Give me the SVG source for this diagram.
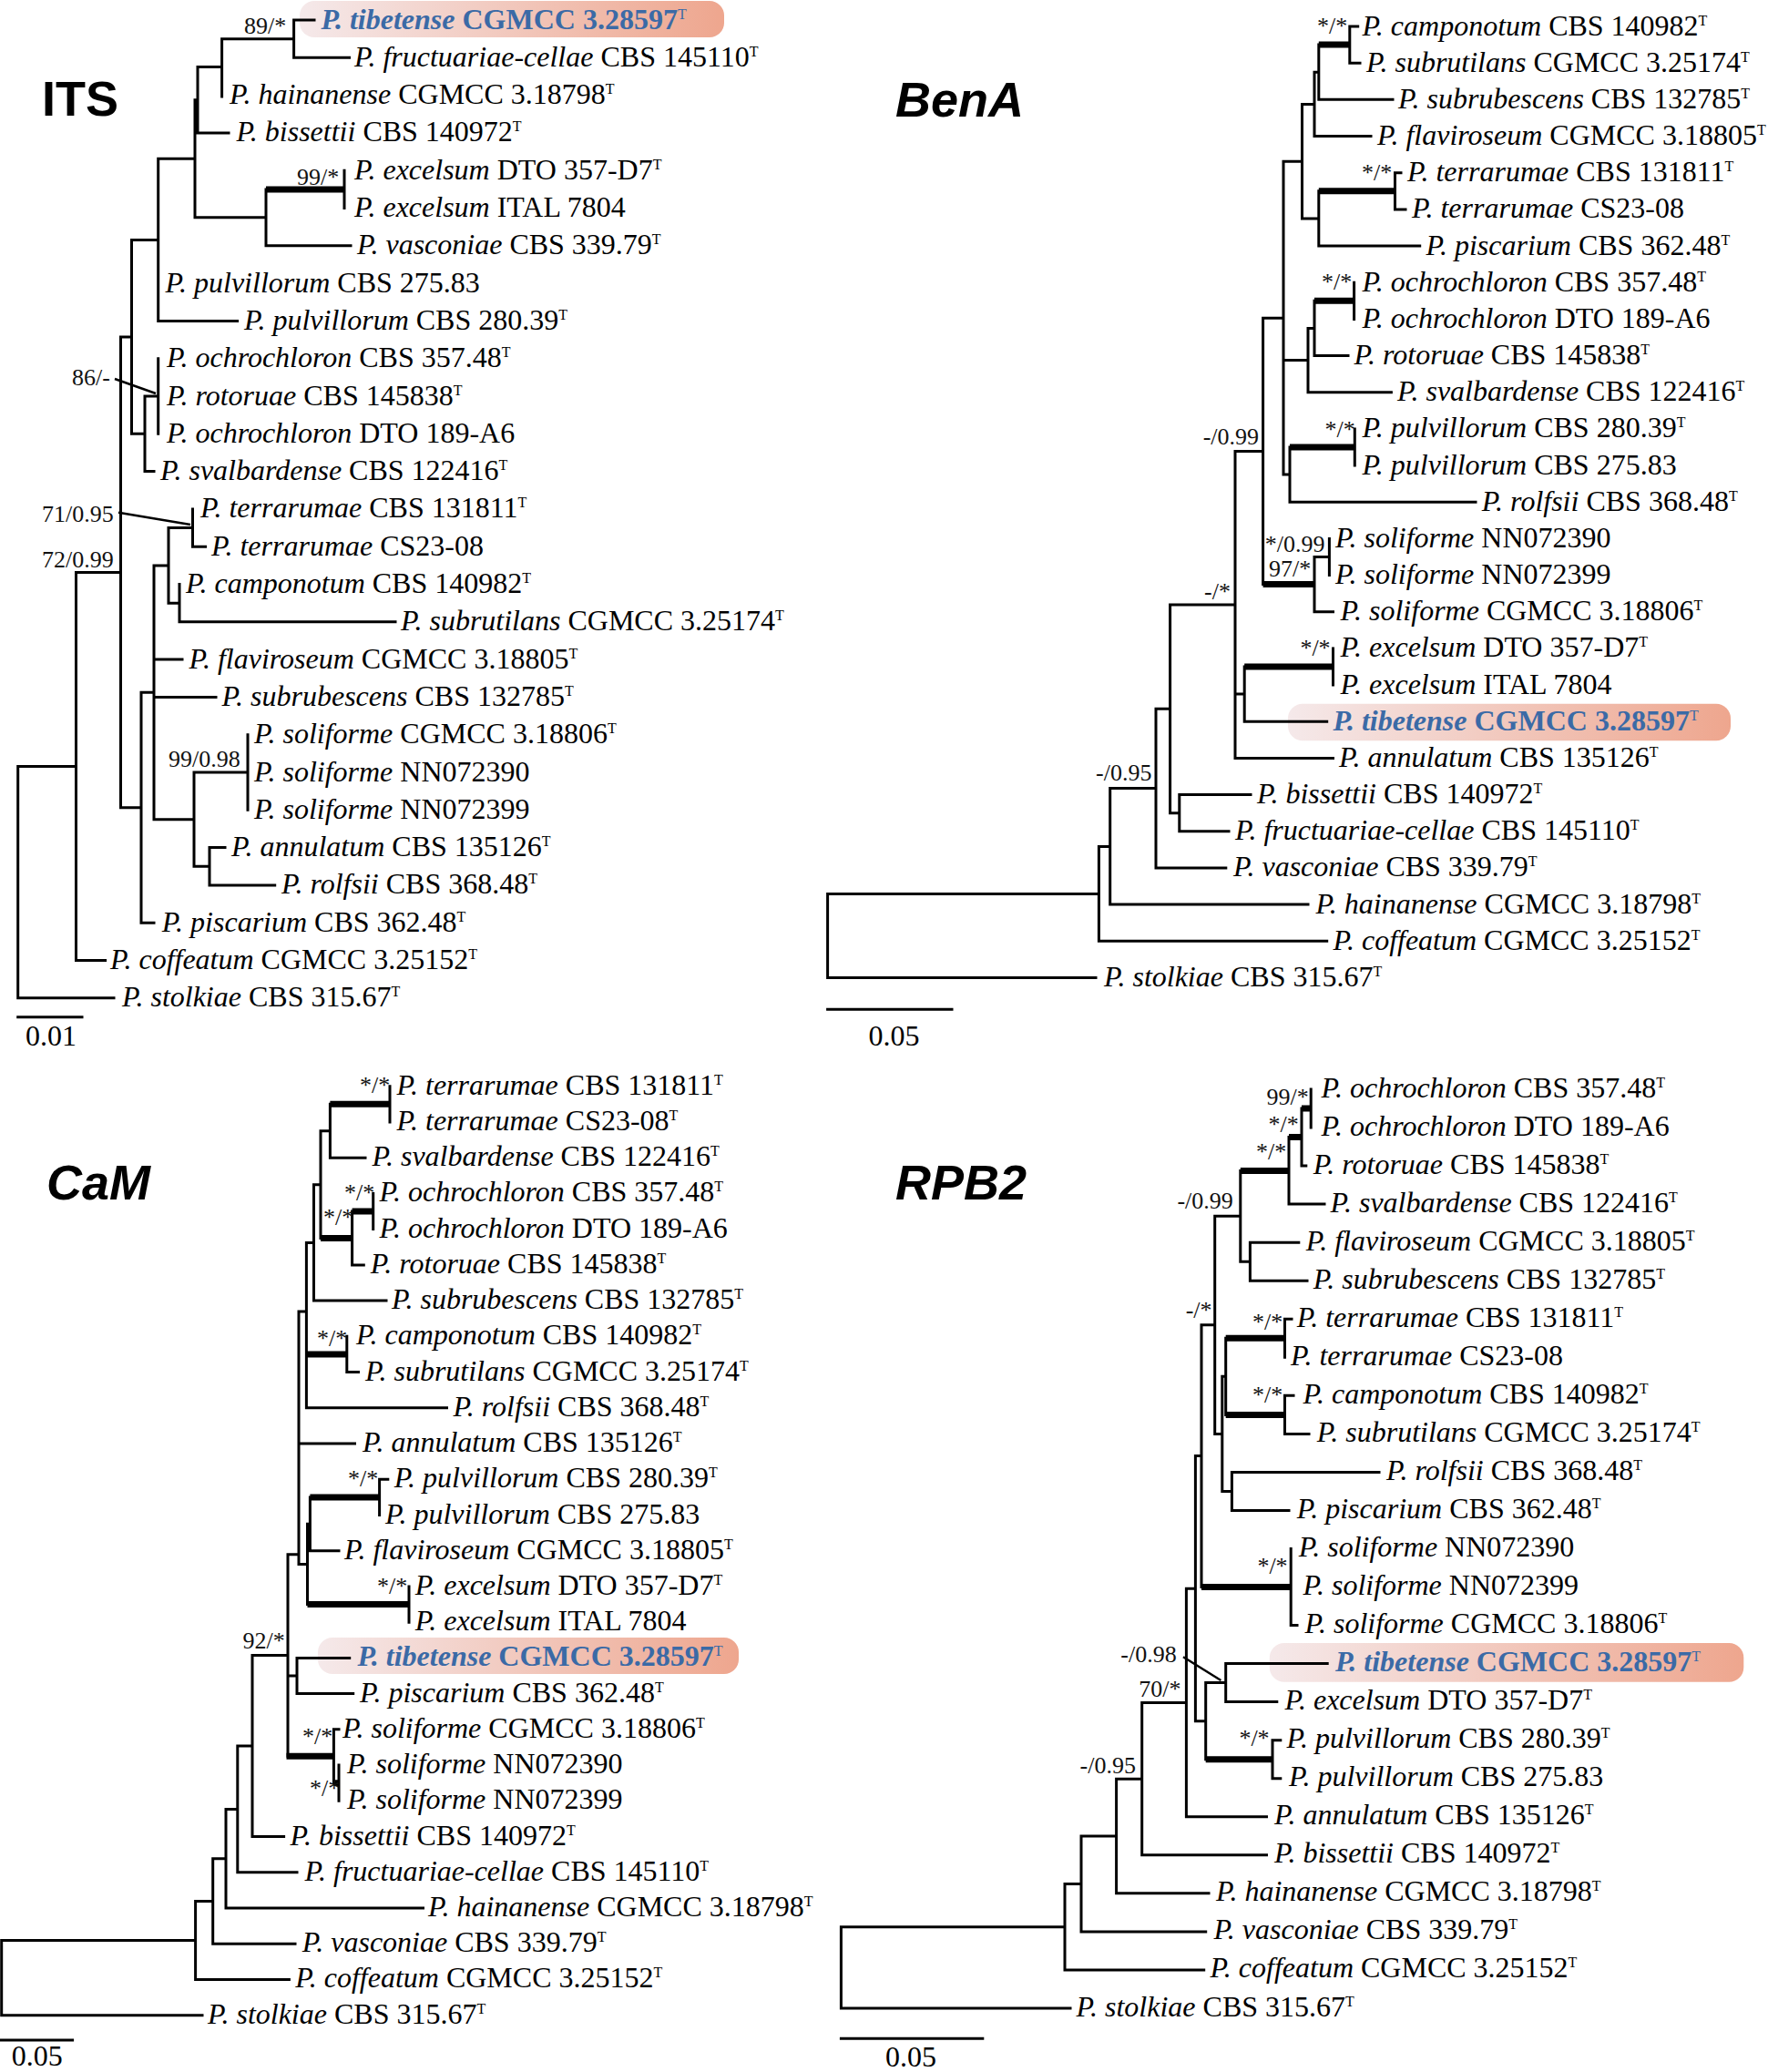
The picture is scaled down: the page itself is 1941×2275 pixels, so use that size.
<svg xmlns="http://www.w3.org/2000/svg" width="1941" height="2275" viewBox="0 0 1941 2275">
<style>
.t{font-family:"Liberation Serif","Times New Roman",serif;font-size:32px;fill:#000}
.i{font-style:italic}
.s{font-size:16px;font-style:normal;font-weight:normal}
.tb{font-weight:bold;fill:#3b6aa6}
.b{font-family:"Liberation Serif","Times New Roman",serif;font-size:26px;fill:#111}
.h{font-family:"Liberation Sans",Arial,sans-serif;font-weight:bold;font-size:54px;fill:#000}
.br{stroke:#000;stroke-width:3;fill:none;stroke-linecap:square;stroke-linejoin:miter}
.th{stroke:#000;stroke-width:7;fill:none;stroke-linecap:butt}
.pt{stroke:#000;stroke-width:2.5;fill:none}
</style>
<defs>
<linearGradient id="hl" x1="0" y1="0" x2="1" y2="0">
<stop offset="0" stop-color="#f5e9ea"/>
<stop offset="1" stop-color="#eea68e"/>
</linearGradient>
</defs>
<rect width="1941" height="2275" fill="#fff"/>

<g id="highlights" fill="url(#hl)">
<rect x="329" y="1" width="466" height="40" rx="16"/>
<rect x="1414" y="772.7" width="486" height="40.6" rx="16"/>
<rect x="349" y="1798" width="462" height="40" rx="16"/>
<rect x="1393.8" y="1804" width="520.5" height="42.7" rx="16"/>
</g>

<g id="connectors">
<path class="br" d="M322.6 22H345M322.6 22V63.3H383.5M243.6 42.65H322.6M243.6 42.65V106M217 73.6H243.6M217 73.6V145.9H251M214 109.8H217M378 187.2V228.5M292 207.9V269.8H385M214 109.8V238.8H292M173.7 174.3H214M173.7 174.3V352.4H260.6M144.5 263.4H173.7M173.7 393.7V476.3M159 435H173.7M159 435V517.6H169M144.5 263.4V476.3H159M132.5 369.9H144.5M211.5 558.9V600.2H225.6M197 641.5V682.8H434M185 579.6H211.5M185 579.6V662.2H197M169 620.9H185M272 806.7V889.3M230 930.6H247M230 930.6V971.9H301.7M213 848H272M213 848V951.3H230M169 620.9V899.7H213M169 724.1H200M169 765.4H237M155 760.3H169M155 760.3V1013.2H169M132.5 369.9V886.8H155M83.5 628.4H132.5M83.5 628.4V1054.5H115.6M19.7 841.5H83.5M19.7 841.5V1095.8H125M19.7 1116.7H90"/>
<path class="th" d="M292 207.9H378"/>
<path class="pt" d="M126 416L171 432M130 562.7L209 576"/>
<path class="br" d="M1481.8 29H1490.7M1481.8 29V69.2H1493M1447.8 49.1V109.3H1529M1443 79.2H1447.8M1443 79.2V149.5H1505M1531.5 189.7H1538M1531.5 189.7V229.9H1543M1447.8 209.8V270H1558.7M1429.5 114.4H1443M1429.5 114.4V239.9H1447.8M1486.6 310.2V350.4M1443 330.3V390.5H1480M1436 360.4H1443M1436 360.4V430.7H1527.4M1487.3 470.9V511M1416 491V551.2H1620M1409 177.2H1429.5M1409 177.2V521.1H1416M1409 395.5H1436M1386.6 349.2H1409M1459.4 591.4V631.6M1443 611.5H1459.4M1443 611.5V671.7H1463.5M1386.6 349.2V641.6M1356 495.4H1386.6M1463.5 711.9V752.1M1366.2 732V792.2H1456.7M1356 762.1H1366.2M1356 495.4V832.4H1463.5M1284.6 663.9H1356M1294.8 872.6H1373M1294.8 872.6V912.7H1349M1284.6 892.7H1294.8M1284.6 663.9V892.7M1269 778.3H1284.6M1269 778.3V952.9H1345.8M1218.7 865.6H1269M1218.7 865.6V993.1H1436M1206.4 929.4H1218.7M1206.4 929.4V1033.3H1456.7M908.6 981.4H1206.4M908.6 981.4V1073.4H1203M908.6 1108.3H1045"/>
<path class="th" d="M1447.8 49.1H1481.8M1447.8 209.8H1531.5M1443 330.3H1486.6M1416 491H1487.3M1386.6 641.6H1443M1366.2 732H1463.5"/>
<path class="br" d="M428 1192.7V1231.9M362.4 1212.3V1271.2H401M352 1241.8H362.4M409.7 1310.4V1349.6M386.6 1330V1388.9H399.3M352 1241.8V1359.5M344.5 1300.7H352M344.5 1300.7V1428.1H424M336.4 1364.4H344.5M380.8 1467.3V1506.5H393.5M336.4 1364.4V1545.8H490.5M328 1440H336.4M416.6 1624.2H425.8M416.6 1624.2V1663.5M340.4 1643.9V1702.7H372M449 1741.9V1781.2M337.5 1673.3H340.4M337.5 1673.3V1761.5M328 1440V1717.4H337.5M328 1585H389.5M316 1706.7H328M326 1820.4H383.7M326 1820.4V1859.6H387.7M316 1840H326M366.4 1898.8H372M366.4 1898.8V1957.7M372 1938.1V1977.3M316 1706.7V1928.3M277 1817.5H316M277 1817.5V2016.5H311.6M260.8 1917H277M260.8 1917V2055.8H326M248 1986.4H260.8M248 1986.4V2095H464.5M233.7 2040.7H248M233.7 2040.7V2134.2H324M214.6 2087.5H233.7M214.6 2087.5V2173.4H317.4M1.7 2130.5H214.6M1.7 2130.5V2212.7H222M0 2240H79.6"/>
<path class="th" d="M362.4 1212.3H428M386.6 1330H409.7M352 1359.5H386.6M336.4 1486.9H380.8M340.4 1643.9H416.6M337.5 1761.5H449M314.5 1928.3H366.4M366.4 1957.7H372"/>
<path class="br" d="M1439.2 1196V1238M1429 1217V1280.1H1433.8M1415 1248.6V1322.1H1454M1372.4 1364.2H1425.8M1372.4 1364.2V1406.2H1435M1361.8 1285.4V1385.2H1372.4M1333.7 1335.3H1361.8M1410.5 1448.2H1418M1410.5 1448.2V1490.3M1410.5 1532.3H1420M1410.5 1532.3V1574.4H1437M1345.7 1469.3V1553.4M1341.8 1511.3H1345.7M1352.4 1616.4H1514M1352.4 1616.4V1658.4H1415M1341.8 1511.3V1637.4H1352.4M1333.7 1574.4H1341.8M1333.7 1335.3V1574.4M1319 1454.8H1333.7M1417.2 1700.5V1784.6H1424M1319 1454.8V1742.5M1312.4 1598.6H1319M1345.7 1826.6H1457.2M1345.7 1826.6V1868.6H1401.8M1323.7 1847.6H1345.7M1397 1910.7H1405.8M1397 1910.7V1952.7H1405.8M1323.7 1847.6V1931.7M1312.4 1598.6V1889.7H1323.7M1302.4 1744.2H1312.4M1302.4 1744.2V1994.8H1390.5M1253.7 1869.5H1302.4M1253.7 1869.5V2036.8H1390.5M1225.6 1953.2H1253.7M1225.6 1953.2V2078.8H1327M1187 2016H1225.6M1187 2016V2120.9H1323.7M1169 2068.5H1187M1169 2068.5V2162.9H1321.7M923.4 2115.7H1169M923.4 2115.7V2205H1175M923.4 2238.3H1078.8"/>
<path class="th" d="M1429 1217H1439.2M1415 1248.6H1429M1361.8 1285.4H1415M1345.7 1469.3H1410.5M1345.7 1553.4H1410.5M1319 1742.5H1417.2M1323.7 1931.7H1397"/>
<path class="pt" d="M1299 1819.3L1340.4 1845"/>
</g>

<g id="headers">
<text class="h" x="46" y="127">ITS</text>
<text class="h" x="983" y="128" font-style="italic" font-size="53">BenA</text>
<text class="h" x="51" y="1317" font-style="italic" font-size="53">CaM</text>
<text class="h" x="983" y="1317" font-style="italic" font-size="53">RPB2</text>
</g>

<g id="supports" class="b">
<text x="268" y="37">89/*</text>
<text x="326" y="203">99/*</text>
<text x="79" y="423">86/-</text>
<text x="46" y="573">71/0.95</text>
<text x="46" y="623">72/0.99</text>
<text x="185" y="842">99/0.98</text>
<text x="1446" y="37">*/*</text>
<text x="1495" y="198">*/*</text>
<text x="1451" y="318">*/*</text>
<text x="1320.7" y="488">-/0.99</text>
<text x="1454.6" y="480">*/*</text>
<text x="1388.7" y="606">*/0.99</text>
<text x="1393" y="632.5">97/*</text>
<text x="1322" y="658">-/*</text>
<text x="1427.4" y="720">*/*</text>
<text x="1203" y="856.7">-/0.95</text>
<text x="395" y="1200">*/*</text>
<text x="378" y="1318">*/*</text>
<text x="355" y="1345">*/*</text>
<text x="348" y="1478">*/*</text>
<text x="382" y="1631.7">*/*</text>
<text x="414" y="1750">*/*</text>
<text x="266.6" y="1810">92/*</text>
<text x="332" y="1915">*/*</text>
<text x="340" y="1971.7">*/*</text>
<text x="1390.5" y="1213.3">99/*</text>
<text x="1392.5" y="1243.3">*/*</text>
<text x="1379" y="1273.3">*/*</text>
<text x="1292.4" y="1326.7">-/0.99</text>
<text x="1301.7" y="1446.7">-/*</text>
<text x="1375" y="1460">*/*</text>
<text x="1375" y="1540">*/*</text>
<text x="1380.4" y="1728.3">*/*</text>
<text x="1230.3" y="1825">-/0.98</text>
<text x="1250.3" y="1863.3">70/*</text>
<text x="1360.4" y="1916.7">*/*</text>
<text x="1185.6" y="1946.7">-/0.95</text>
</g>

<g id="scales" class="t">
<text x="28" y="1148">0.01</text>
<text x="953.4" y="1148">0.05</text>
<text x="12.7" y="2268">0.05</text>
<text x="972" y="2269">0.05</text>
</g>

<g id="its-taxa" class="t">
<g id="its-tibetense"><text class="tb" x="352.5" y="31.5"><tspan class="i">P. tibetense</tspan> CGMCC 3.28597<tspan class="s" dy="-11">T</tspan></text></g>
<g id="its-fructuariae"><text x="389" y="72.8"><tspan class="i">P. fructuariae-cellae</tspan> CBS 145110<tspan class="s" dy="-11">T</tspan></text></g>
<g id="its-hainanense"><text x="252" y="114.1"><tspan class="i">P. hainanense</tspan> CGMCC 3.18798<tspan class="s" dy="-11">T</tspan></text></g>
<g id="its-bissettii"><text x="259.4" y="155.4"><tspan class="i">P. bissettii</tspan> CBS 140972<tspan class="s" dy="-11">T</tspan></text></g>
<g id="its-excelsum1"><text x="389" y="196.7"><tspan class="i">P. excelsum</tspan> DTO 357-D7<tspan class="s" dy="-11">T</tspan></text></g>
<g id="its-excelsum2"><text x="389" y="238"><tspan class="i">P. excelsum</tspan> ITAL 7804</text></g>
<g id="its-vasconiae"><text x="392" y="279.3"><tspan class="i">P. vasconiae</tspan> CBS 339.79<tspan class="s" dy="-11">T</tspan></text></g>
<g id="its-pulvillorum1"><text x="181.6" y="320.6"><tspan class="i">P. pulvillorum</tspan> CBS 275.83</text></g>
<g id="its-pulvillorum2"><text x="268" y="361.9"><tspan class="i">P. pulvillorum</tspan> CBS 280.39<tspan class="s" dy="-11">T</tspan></text></g>
<g id="its-ochrochloron1"><text x="183" y="403.2"><tspan class="i">P. ochrochloron</tspan> CBS 357.48<tspan class="s" dy="-11">T</tspan></text></g>
<g id="its-rotoruae"><text x="183" y="444.5"><tspan class="i">P. rotoruae</tspan> CBS 145838<tspan class="s" dy="-11">T</tspan></text></g>
<g id="its-ochrochloron2"><text x="183" y="485.8"><tspan class="i">P. ochrochloron</tspan> DTO 189-A6</text></g>
<g id="its-svalbardense"><text x="176" y="527.1"><tspan class="i">P. svalbardense</tspan> CBS 122416<tspan class="s" dy="-11">T</tspan></text></g>
<g id="its-terrarumae1"><text x="220" y="568.4"><tspan class="i">P. terrarumae</tspan> CBS 131811<tspan class="s" dy="-11">T</tspan></text></g>
<g id="its-terrarumae2"><text x="232" y="609.7"><tspan class="i">P. terrarumae</tspan> CS23-08</text></g>
<g id="its-camponotum"><text x="204" y="651"><tspan class="i">P. camponotum</tspan> CBS 140982<tspan class="s" dy="-11">T</tspan></text></g>
<g id="its-subrutilans"><text x="440" y="692.3"><tspan class="i">P. subrutilans</tspan> CGMCC 3.25174<tspan class="s" dy="-11">T</tspan></text></g>
<g id="its-flaviroseum"><text x="207.5" y="733.6"><tspan class="i">P. flaviroseum</tspan> CGMCC 3.18805<tspan class="s" dy="-11">T</tspan></text></g>
<g id="its-subrubescens"><text x="243.6" y="774.9"><tspan class="i">P. subrubescens</tspan> CBS 132785<tspan class="s" dy="-11">T</tspan></text></g>
<g id="its-soliforme1"><text x="279" y="816.2"><tspan class="i">P. soliforme</tspan> CGMCC 3.18806<tspan class="s" dy="-11">T</tspan></text></g>
<g id="its-soliforme2"><text x="279" y="857.5"><tspan class="i">P. soliforme</tspan> NN072390</text></g>
<g id="its-soliforme3"><text x="279" y="898.8"><tspan class="i">P. soliforme</tspan> NN072399</text></g>
<g id="its-annulatum"><text x="254" y="940.1"><tspan class="i">P. annulatum</tspan> CBS 135126<tspan class="s" dy="-11">T</tspan></text></g>
<g id="its-rolfsii"><text x="309" y="981.4"><tspan class="i">P. rolfsii</tspan> CBS 368.48<tspan class="s" dy="-11">T</tspan></text></g>
<g id="its-piscarium"><text x="177.7" y="1022.7"><tspan class="i">P. piscarium</tspan> CBS 362.48<tspan class="s" dy="-11">T</tspan></text></g>
<g id="its-coffeatum"><text x="121" y="1064"><tspan class="i">P. coffeatum</tspan> CGMCC 3.25152<tspan class="s" dy="-11">T</tspan></text></g>
<g id="its-stolkiae"><text x="134" y="1105.3"><tspan class="i">P. stolkiae</tspan> CBS 315.67<tspan class="s" dy="-11">T</tspan></text></g>
</g>

<g id="bena-taxa" class="t">
<g id="bena-camponotum"><text x="1495.4" y="38.5"><tspan class="i">P. camponotum</tspan> CBS 140982<tspan class="s" dy="-11">T</tspan></text></g>
<g id="bena-subrutilans"><text x="1500" y="78.7"><tspan class="i">P. subrutilans</tspan> CGMCC 3.25174<tspan class="s" dy="-11">T</tspan></text></g>
<g id="bena-subrubescens"><text x="1535" y="118.8"><tspan class="i">P. subrubescens</tspan> CBS 132785<tspan class="s" dy="-11">T</tspan></text></g>
<g id="bena-flaviroseum"><text x="1512" y="159"><tspan class="i">P. flaviroseum</tspan> CGMCC 3.18805<tspan class="s" dy="-11">T</tspan></text></g>
<g id="bena-terrarumae1"><text x="1545" y="199.2"><tspan class="i">P. terrarumae</tspan> CBS 131811<tspan class="s" dy="-11">T</tspan></text></g>
<g id="bena-terrarumae2"><text x="1550" y="239.4"><tspan class="i">P. terrarumae</tspan> CS23-08</text></g>
<g id="bena-piscarium"><text x="1565.5" y="279.5"><tspan class="i">P. piscarium</tspan> CBS 362.48<tspan class="s" dy="-11">T</tspan></text></g>
<g id="bena-ochrochloron1"><text x="1495.4" y="319.7"><tspan class="i">P. ochrochloron</tspan> CBS 357.48<tspan class="s" dy="-11">T</tspan></text></g>
<g id="bena-ochrochloron2"><text x="1495.4" y="359.9"><tspan class="i">P. ochrochloron</tspan> DTO 189-A6</text></g>
<g id="bena-rotoruae"><text x="1486.6" y="400"><tspan class="i">P. rotoruae</tspan> CBS 145838<tspan class="s" dy="-11">T</tspan></text></g>
<g id="bena-svalbardense"><text x="1534" y="440.2"><tspan class="i">P. svalbardense</tspan> CBS 122416<tspan class="s" dy="-11">T</tspan></text></g>
<g id="bena-pulvillorum1"><text x="1495.4" y="480.4"><tspan class="i">P. pulvillorum</tspan> CBS 280.39<tspan class="s" dy="-11">T</tspan></text></g>
<g id="bena-pulvillorum2"><text x="1495.4" y="520.5"><tspan class="i">P. pulvillorum</tspan> CBS 275.83</text></g>
<g id="bena-rolfsii"><text x="1626.7" y="560.7"><tspan class="i">P. rolfsii</tspan> CBS 368.48<tspan class="s" dy="-11">T</tspan></text></g>
<g id="bena-soliforme1"><text x="1466" y="600.9"><tspan class="i">P. soliforme</tspan> NN072390</text></g>
<g id="bena-soliforme2"><text x="1466" y="641.1"><tspan class="i">P. soliforme</tspan> NN072399</text></g>
<g id="bena-soliforme3"><text x="1471.6" y="681.2"><tspan class="i">P. soliforme</tspan> CGMCC 3.18806<tspan class="s" dy="-11">T</tspan></text></g>
<g id="bena-excelsum1"><text x="1471.6" y="721.4"><tspan class="i">P. excelsum</tspan> DTO 357-D7<tspan class="s" dy="-11">T</tspan></text></g>
<g id="bena-excelsum2"><text x="1471.6" y="761.6"><tspan class="i">P. excelsum</tspan> ITAL 7804</text></g>
<g id="bena-tibetense"><text class="tb" x="1463.5" y="801.7"><tspan class="i">P. tibetense</tspan> CGMCC 3.28597<tspan class="s" dy="-11">T</tspan></text></g>
<g id="bena-annulatum"><text x="1470" y="841.9"><tspan class="i">P. annulatum</tspan> CBS 135126<tspan class="s" dy="-11">T</tspan></text></g>
<g id="bena-bissettii"><text x="1380" y="882.1"><tspan class="i">P. bissettii</tspan> CBS 140972<tspan class="s" dy="-11">T</tspan></text></g>
<g id="bena-fructuariae"><text x="1356" y="922.2"><tspan class="i">P. fructuariae-cellae</tspan> CBS 145110<tspan class="s" dy="-11">T</tspan></text></g>
<g id="bena-vasconiae"><text x="1354" y="962.4"><tspan class="i">P. vasconiae</tspan> CBS 339.79<tspan class="s" dy="-11">T</tspan></text></g>
<g id="bena-hainanense"><text x="1444.4" y="1002.6"><tspan class="i">P. hainanense</tspan> CGMCC 3.18798<tspan class="s" dy="-11">T</tspan></text></g>
<g id="bena-coffeatum"><text x="1463.5" y="1042.8"><tspan class="i">P. coffeatum</tspan> CGMCC 3.25152<tspan class="s" dy="-11">T</tspan></text></g>
<g id="bena-stolkiae"><text x="1212" y="1082.9"><tspan class="i">P. stolkiae</tspan> CBS 315.67<tspan class="s" dy="-11">T</tspan></text></g>
</g>

<g id="cam-taxa" class="t">
<g id="cam-terrarumae1"><text x="435.6" y="1201.7"><tspan class="i">P. terrarumae</tspan> CBS 131811<tspan class="s" dy="-11">T</tspan></text></g>
<g id="cam-terrarumae2"><text x="435.6" y="1240.9"><tspan class="i">P. terrarumae</tspan> CS23-08<tspan class="s" dy="-11">T</tspan></text></g>
<g id="cam-svalbardense"><text x="408.5" y="1280.2"><tspan class="i">P. svalbardense</tspan> CBS 122416<tspan class="s" dy="-11">T</tspan></text></g>
<g id="cam-ochrochloron1"><text x="416.6" y="1319.4"><tspan class="i">P. ochrochloron</tspan> CBS 357.48<tspan class="s" dy="-11">T</tspan></text></g>
<g id="cam-ochrochloron2"><text x="416.6" y="1358.6"><tspan class="i">P. ochrochloron</tspan> DTO 189-A6</text></g>
<g id="cam-rotoruae"><text x="406.8" y="1397.9"><tspan class="i">P. rotoruae</tspan> CBS 145838<tspan class="s" dy="-11">T</tspan></text></g>
<g id="cam-subrubescens"><text x="430" y="1437.1"><tspan class="i">P. subrubescens</tspan> CBS 132785<tspan class="s" dy="-11">T</tspan></text></g>
<g id="cam-camponotum"><text x="391" y="1476.3"><tspan class="i">P. camponotum</tspan> CBS 140982<tspan class="s" dy="-11">T</tspan></text></g>
<g id="cam-subrutilans"><text x="401" y="1515.5"><tspan class="i">P. subrutilans</tspan> CGMCC 3.25174<tspan class="s" dy="-11">T</tspan></text></g>
<g id="cam-rolfsii"><text x="497.4" y="1554.8"><tspan class="i">P. rolfsii</tspan> CBS 368.48<tspan class="s" dy="-11">T</tspan></text></g>
<g id="cam-annulatum"><text x="398" y="1594"><tspan class="i">P. annulatum</tspan> CBS 135126<tspan class="s" dy="-11">T</tspan></text></g>
<g id="cam-pulvillorum1"><text x="432.7" y="1633.2"><tspan class="i">P. pulvillorum</tspan> CBS 280.39<tspan class="s" dy="-11">T</tspan></text></g>
<g id="cam-pulvillorum2"><text x="423" y="1672.5"><tspan class="i">P. pulvillorum</tspan> CBS 275.83</text></g>
<g id="cam-flaviroseum"><text x="378" y="1711.7"><tspan class="i">P. flaviroseum</tspan> CGMCC 3.18805<tspan class="s" dy="-11">T</tspan></text></g>
<g id="cam-excelsum1"><text x="455.8" y="1750.9"><tspan class="i">P. excelsum</tspan> DTO 357-D7<tspan class="s" dy="-11">T</tspan></text></g>
<g id="cam-excelsum2"><text x="455.8" y="1790.2"><tspan class="i">P. excelsum</tspan> ITAL 7804</text></g>
<g id="cam-tibetense"><text class="tb" x="392.4" y="1829.4"><tspan class="i">P. tibetense</tspan> CGMCC 3.28597<tspan class="s" dy="-11">T</tspan></text></g>
<g id="cam-piscarium"><text x="395" y="1868.6"><tspan class="i">P. piscarium</tspan> CBS 362.48<tspan class="s" dy="-11">T</tspan></text></g>
<g id="cam-soliforme1"><text x="376" y="1907.8"><tspan class="i">P. soliforme</tspan> CGMCC 3.18806<tspan class="s" dy="-11">T</tspan></text></g>
<g id="cam-soliforme2"><text x="381" y="1947.1"><tspan class="i">P. soliforme</tspan> NN072390</text></g>
<g id="cam-soliforme3"><text x="381" y="1986.3"><tspan class="i">P. soliforme</tspan> NN072399</text></g>
<g id="cam-bissettii"><text x="318.5" y="2025.5"><tspan class="i">P. bissettii</tspan> CBS 140972<tspan class="s" dy="-11">T</tspan></text></g>
<g id="cam-fructuariae"><text x="334.6" y="2064.8"><tspan class="i">P. fructuariae-cellae</tspan> CBS 145110<tspan class="s" dy="-11">T</tspan></text></g>
<g id="cam-hainanense"><text x="470" y="2104"><tspan class="i">P. hainanense</tspan> CGMCC 3.18798<tspan class="s" dy="-11">T</tspan></text></g>
<g id="cam-vasconiae"><text x="331.8" y="2143.2"><tspan class="i">P. vasconiae</tspan> CBS 339.79<tspan class="s" dy="-11">T</tspan></text></g>
<g id="cam-coffeatum"><text x="324.3" y="2182.4"><tspan class="i">P. coffeatum</tspan> CGMCC 3.25152<tspan class="s" dy="-11">T</tspan></text></g>
<g id="cam-stolkiae"><text x="228" y="2221.7"><tspan class="i">P. stolkiae</tspan> CBS 315.67<tspan class="s" dy="-11">T</tspan></text></g>
</g>

<g id="rpb2-taxa" class="t">
<g id="rpb2-ochrochloron1"><text x="1450.5" y="1204.5"><tspan class="i">P. ochrochloron</tspan> CBS 357.48<tspan class="s" dy="-11">T</tspan></text></g>
<g id="rpb2-ochrochloron2"><text x="1450.5" y="1246.5"><tspan class="i">P. ochrochloron</tspan> DTO 189-A6</text></g>
<g id="rpb2-rotoruae"><text x="1441.8" y="1288.6"><tspan class="i">P. rotoruae</tspan> CBS 145838<tspan class="s" dy="-11">T</tspan></text></g>
<g id="rpb2-svalbardense"><text x="1460.5" y="1330.6"><tspan class="i">P. svalbardense</tspan> CBS 122416<tspan class="s" dy="-11">T</tspan></text></g>
<g id="rpb2-flaviroseum"><text x="1433.8" y="1372.7"><tspan class="i">P. flaviroseum</tspan> CGMCC 3.18805<tspan class="s" dy="-11">T</tspan></text></g>
<g id="rpb2-subrubescens"><text x="1441.8" y="1414.7"><tspan class="i">P. subrubescens</tspan> CBS 132785<tspan class="s" dy="-11">T</tspan></text></g>
<g id="rpb2-terrarumae1"><text x="1423.8" y="1456.7"><tspan class="i">P. terrarumae</tspan> CBS 131811<tspan class="s" dy="-11">T</tspan></text></g>
<g id="rpb2-terrarumae2"><text x="1417" y="1498.8"><tspan class="i">P. terrarumae</tspan> CS23-08</text></g>
<g id="rpb2-camponotum"><text x="1430.5" y="1540.8"><tspan class="i">P. camponotum</tspan> CBS 140982<tspan class="s" dy="-11">T</tspan></text></g>
<g id="rpb2-subrutilans"><text x="1445.8" y="1582.9"><tspan class="i">P. subrutilans</tspan> CGMCC 3.25174<tspan class="s" dy="-11">T</tspan></text></g>
<g id="rpb2-rolfsii"><text x="1522" y="1624.9"><tspan class="i">P. rolfsii</tspan> CBS 368.48<tspan class="s" dy="-11">T</tspan></text></g>
<g id="rpb2-piscarium"><text x="1423.8" y="1666.9"><tspan class="i">P. piscarium</tspan> CBS 362.48<tspan class="s" dy="-11">T</tspan></text></g>
<g id="rpb2-soliforme1"><text x="1425.8" y="1709"><tspan class="i">P. soliforme</tspan> NN072390</text></g>
<g id="rpb2-soliforme2"><text x="1430.5" y="1751"><tspan class="i">P. soliforme</tspan> NN072399</text></g>
<g id="rpb2-soliforme3"><text x="1432.5" y="1793.1"><tspan class="i">P. soliforme</tspan> CGMCC 3.18806<tspan class="s" dy="-11">T</tspan></text></g>
<g id="rpb2-tibetense"><text class="tb" x="1465.9" y="1835.1"><tspan class="i">P. tibetense</tspan> CGMCC 3.28597<tspan class="s" dy="-11">T</tspan></text></g>
<g id="rpb2-excelsum"><text x="1410.5" y="1877.1"><tspan class="i">P. excelsum</tspan> DTO 357-D7<tspan class="s" dy="-11">T</tspan></text></g>
<g id="rpb2-pulvillorum1"><text x="1412.5" y="1919.2"><tspan class="i">P. pulvillorum</tspan> CBS 280.39<tspan class="s" dy="-11">T</tspan></text></g>
<g id="rpb2-pulvillorum2"><text x="1415" y="1961.2"><tspan class="i">P. pulvillorum</tspan> CBS 275.83</text></g>
<g id="rpb2-annulatum"><text x="1399" y="2003.3"><tspan class="i">P. annulatum</tspan> CBS 135126<tspan class="s" dy="-11">T</tspan></text></g>
<g id="rpb2-bissettii"><text x="1399" y="2045.3"><tspan class="i">P. bissettii</tspan> CBS 140972<tspan class="s" dy="-11">T</tspan></text></g>
<g id="rpb2-hainanense"><text x="1335" y="2087.3"><tspan class="i">P. hainanense</tspan> CGMCC 3.18798<tspan class="s" dy="-11">T</tspan></text></g>
<g id="rpb2-vasconiae"><text x="1332.4" y="2129.4"><tspan class="i">P. vasconiae</tspan> CBS 339.79<tspan class="s" dy="-11">T</tspan></text></g>
<g id="rpb2-coffeatum"><text x="1328.4" y="2171.4"><tspan class="i">P. coffeatum</tspan> CGMCC 3.25152<tspan class="s" dy="-11">T</tspan></text></g>
<g id="rpb2-stolkiae"><text x="1181.6" y="2213.5"><tspan class="i">P. stolkiae</tspan> CBS 315.67<tspan class="s" dy="-11">T</tspan></text></g>
</g>
</svg>
